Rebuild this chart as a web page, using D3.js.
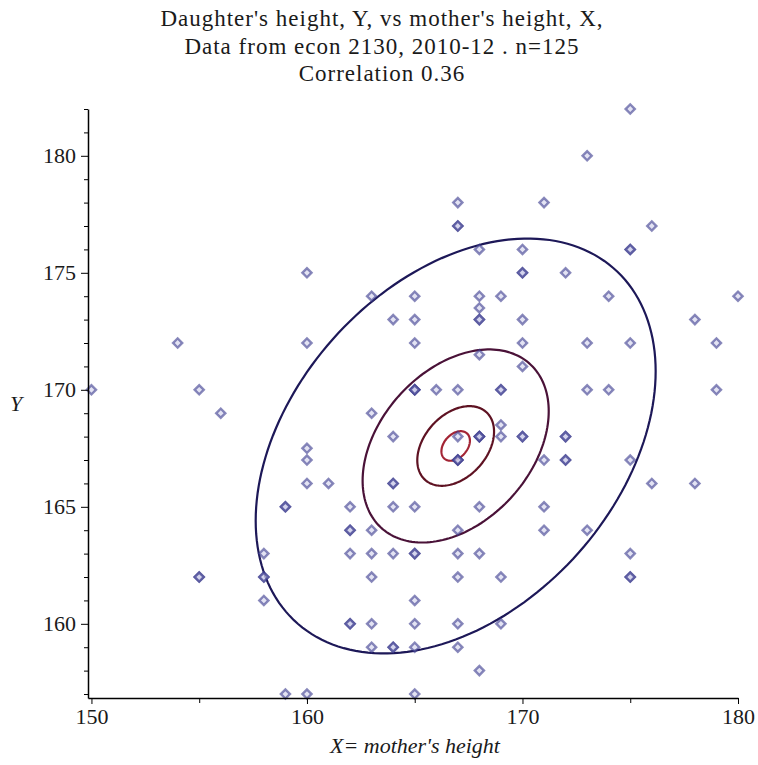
<!DOCTYPE html>
<html>
<head>
<meta charset="utf-8">
<script src="https://cdn.jsdelivr.net/npm/d3@7"></script>
<style>
  body { margin: 0; background: #fff; }
  svg { display: block; }
</style>
</head>
<body>
<script>
// mother's height (X) and daughter's height (Y), one entry per student, n = 125
const motherX = [
  175, 173, 167, 171, 167, 167, 176, 168, 170, 175, 175, 160, 170, 170, 172,
  163, 165, 168, 169, 174, 180, 168, 164, 165, 168, 168, 170, 178,
  154, 160, 165, 170, 173, 175, 179, 168, 170,
  150, 155, 165, 165, 165, 166, 167, 169, 169, 173, 174, 179, 156, 163, 169,
  164, 167, 168, 168, 168, 169, 170, 170, 172, 172, 160,
  160, 167, 167, 167, 171, 172, 172, 175, 160, 161, 164, 164, 176, 178,
  159, 159, 162, 164, 165, 168, 171, 162, 162, 163, 167, 171, 173,
  158, 162, 163, 164, 165, 165, 167, 168, 175,
  155, 155, 158, 158, 163, 167, 169, 175, 175, 158, 165,
  162, 162, 163, 165, 167, 169, 163, 164, 164, 165, 167, 168, 159, 160, 165
];
const daughterY = [
  182, 180, 178, 178, 177, 177, 177, 176, 176, 176, 176, 175, 175, 175, 175,
  174, 174, 174, 174, 174, 174, 173.5, 173, 173, 173, 173, 173, 173,
  172, 172, 172, 172, 172, 172, 172, 171.5, 171,
  170, 170, 170, 170, 170, 170, 170, 170, 170, 170, 170, 170, 169, 169, 168.5,
  168, 168, 168, 168, 168, 168, 168, 168, 168, 168, 167.5,
  167, 167, 167, 167, 167, 167, 167, 167, 166, 166, 166, 166, 166, 166,
  165, 165, 165, 165, 165, 165, 165, 164, 164, 164, 164, 164, 164,
  163, 163, 163, 163, 163, 163, 163, 163, 163,
  162, 162, 162, 162, 162, 162, 162, 162, 162, 161, 161,
  160, 160, 160, 160, 160, 160, 159, 159, 159, 159, 159, 158, 157, 157, 157
];

// fitted bivariate normal and the contour levels (Mahalanobis radius)
const meanX = 166.9, meanY = 167.6, sdX = 5.6, sdY = 5.35, rho = 0.36;
const contourRadii = [1.657, 0.771, 0.318, 0.118];
const contourColors = ["#1d1858", "#4a1238", "#5e1222", "#a32434"];

const titleLines = [
  "Daughter's height, Y, vs mother's height, X,",
  "Data from econ 2130, 2010-12 . n=125",
  "Correlation 0.36"
];
const xLabelTicks = [150, 160, 170, 180];
const xMinorTicks = [155, 165, 175];
const yLabelTicks = [160, 165, 170, 175, 180];
const yMinorTicks = d3.range(157, 183).filter(v => v % 5 !== 0);

const serif = "Liberation Serif";
const W = 758, H = 765;
const svg = d3.select("body").append("svg").attr("width", W).attr("height", H)
  .style("font-family", serif);

const x = d3.scaleLinear().domain([149.84, 180]).range([88, 738]);
const y = d3.scaleLinear().domain([156.83, 182]).range([698, 109]);

// title
svg.append("g").selectAll("text")
  .data(titleLines)
  .join("text")
  .attr("x", 382)
  .attr("y", (d, i) => 26 + i * 27.5)
  .attr("text-anchor", "middle")
  .style("font-family", serif)
  .style("font-size", "23px")
  .style("letter-spacing", "1px")
  .attr("fill", "#1a1a1a")
  .text(d => d);

// contours
const ellipse = d3.line().x(p => x(p[0])).y(p => y(p[1])).curve(d3.curveLinearClosed);
const angles = d3.range(0, 2 * Math.PI, Math.PI / 90);
svg.append("g").selectAll("path")
  .data(contourRadii)
  .join("path")
  .attr("d", r => ellipse(angles.map(t => [
    meanX + r * sdX * Math.cos(t),
    meanY + r * sdY * (rho * Math.cos(t) + Math.sqrt(1 - rho * rho) * Math.sin(t))
  ])))
  .attr("fill", "none")
  .attr("stroke", (d, i) => contourColors[i])
  .attr("stroke-width", 2.2);

// points: square turned 45 degrees
const marker = d3.symbol().type(d3.symbolSquare).size(42);
svg.append("g").selectAll("path")
  .data(motherX.map((v, i) => [v, daughterY[i]]))
  .join("path")
  .attr("transform", d => `translate(${x(d[0])},${y(d[1])}) rotate(45)`)
  .attr("d", marker)
  .attr("fill", "#c8c8e8")
  .attr("fill-opacity", 0.5)
  .attr("stroke", "#3a3a8e")
  .attr("stroke-opacity", 0.6)
  .attr("stroke-width", 2.4);

// axes
const axisFont = g => g.selectAll("text")
  .style("font-size", "22px").style("font-family", serif).attr("fill", "#1a1a1a");

svg.append("g")
  .attr("transform", "translate(0,698)")
  .call(d3.axisBottom(x).tickValues(xMinorTicks).tickSize(5).tickFormat(""))
  .call(g => g.select(".domain").remove());
svg.append("g")
  .attr("transform", "translate(0,698)")
  .call(d3.axisBottom(x).tickValues(xLabelTicks).tickSize(6).tickSizeOuter(0).tickPadding(4).tickFormat(d3.format("d")))
  .call(axisFont)
  .call(g => g.select(".domain").attr("stroke-width", 1.5));

svg.append("g")
  .attr("transform", "translate(88,0)")
  .call(d3.axisLeft(y).tickValues(yMinorTicks).tickSize(4).tickFormat(""))
  .call(g => g.select(".domain").remove());
svg.append("g")
  .attr("transform", "translate(88,0)")
  .call(d3.axisLeft(y).tickValues(yLabelTicks).tickSize(7).tickSizeOuter(0).tickPadding(5).tickFormat(d3.format("d")))
  .call(axisFont)
  .call(g => g.select(".domain").attr("stroke-width", 1.5));

// axis titles
svg.append("text")
  .attr("x", 415).attr("y", 753)
  .attr("text-anchor", "middle")
  .style("font-size", "22px").style("font-style", "italic").attr("fill", "#1a1a1a")
  .text("X= mother's height");
svg.append("text")
  .attr("x", 16).attr("y", 411)
  .attr("text-anchor", "middle")
  .style("font-size", "22px").style("font-style", "italic").attr("fill", "#1a1a1a")
  .text("Y");
</script>
</body>
</html>
